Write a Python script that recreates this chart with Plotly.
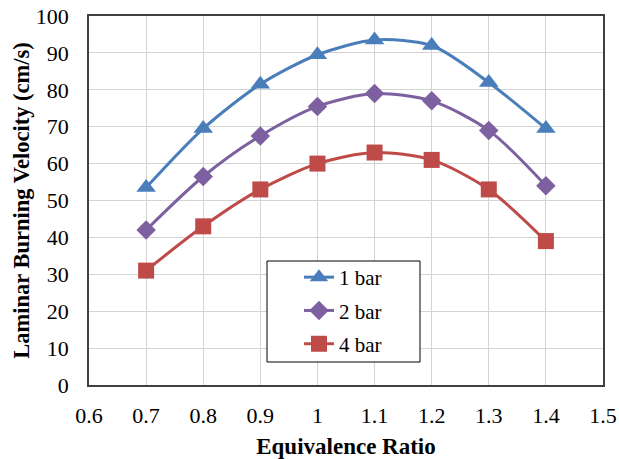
import plotly.graph_objects as go

phi = [0.7, 0.8, 0.9, 1.0, 1.1, 1.2, 1.3, 1.4]
s1 = [53.5, 69.5, 81.5, 89.5, 93.5, 92.0, 82.0, 69.5]
s2 = [42.0, 56.5, 67.5, 75.5, 79.0, 77.0, 69.0, 54.0]
s4 = [31.0, 43.0, 53.0, 60.0, 63.0, 61.0, 53.0, 39.0]
names = ["1 bar", "2 bar", "4 bar"]
colors = ["#4A7EBB", "#7D60A0", "#BE4B48"]
symbols = ["triangle-up", "diamond", "square"]
sizes = [17, 15, 16]

fig = go.Figure()
for y, n, c, s, sz in zip([s1, s2, s4], names, colors, symbols, sizes):
    fig.add_trace(go.Scatter(
        x=phi, y=y, name=n, mode="lines+markers", legendgroup=n,
        line=dict(color=c, width=3, shape="spline", smoothing=0.8),
        marker=dict(symbol=s, size=sz, color=c),
    ))

font_family = "Liberation Serif"
W, H = 619, 459
L, R, T, B = 89, 16, 16, 74
pw, ph = W - L - R, H - T - B

def px2x(px):
    return (px - L) / pw

def px2y(py):
    return (H - B - py) / ph

fig.add_shape(type="rect", xref="paper", yref="paper",
              x0=px2x(267), x1=px2x(420), y0=px2y(362), y1=px2y(261),
              line=dict(color="black", width=1), fillcolor="white", layer="above")

fig.update_layout(
    width=W, height=H,
    margin=dict(l=L, r=R, t=T, b=B, autoexpand=False),
    paper_bgcolor="white", plot_bgcolor="white",
    font=dict(family=font_family, size=22, color="black"),
    showlegend=True,
    legend=dict(
        x=px2x(299), y=px2y(257), xanchor="left", yanchor="top",
        borderwidth=0, bgcolor="rgba(0,0,0,0)",
        font=dict(size=21, family=font_family),
        traceorder="grouped", tracegroupgap=3,
    ),
    xaxis=dict(
        range=[0.6, 1.5], dtick=0.1, tick0=0.6, automargin=False,
        showgrid=True, gridcolor="#D4D4D4", gridwidth=1,
        showline=True, linecolor="#404040", linewidth=1.5, mirror=True,
        ticks="", zeroline=False, ticklabelstandoff=10,
        tickformat=".1~f", tickfont=dict(family=font_family, size=22),
        title=dict(text="<b>Equivalence Ratio</b>", font=dict(size=23, family=font_family), standoff=14),
    ),
    yaxis=dict(
        range=[0, 100], dtick=10, automargin=False,
        showgrid=True, gridcolor="#D4D4D4", gridwidth=1,
        showline=True, linecolor="#404040", linewidth=1.5, mirror=True,
        ticks="", zeroline=False, ticklabelstandoff=14,
        tickfont=dict(family=font_family, size=22),
        title=dict(text="<b>Laminar Burning Velocity (cm/s)</b>", font=dict(size=22.5, family=font_family), standoff=0),
    ),
)
fig.write_html("out.html")
